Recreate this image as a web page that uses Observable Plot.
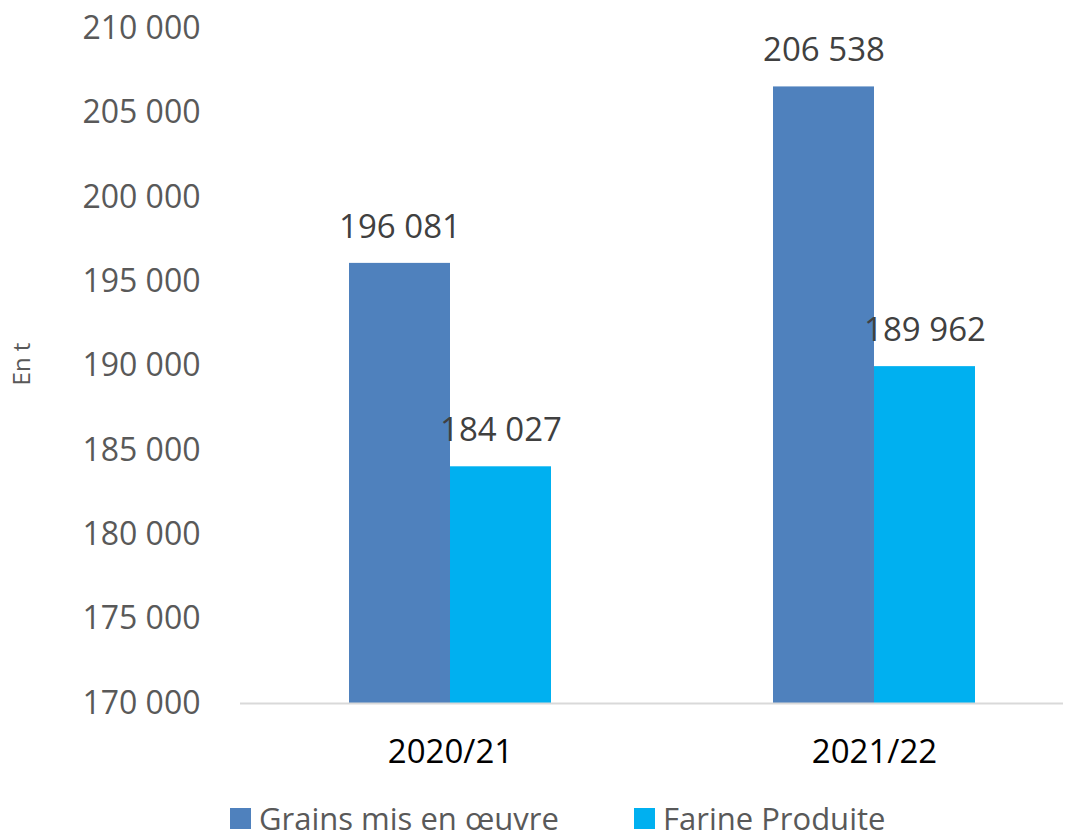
<!DOCTYPE html>
<html>
<head>
<meta charset="utf-8">
<script src="https://cdn.jsdelivr.net/npm/d3@7"></script>
<script src="https://cdn.jsdelivr.net/npm/@observablehq/plot@0.6"></script>
<style>
  html, body { margin: 0; padding: 0; background: #fff; }
  #chart { width: 1067px; height: 838px; position: relative; font-family: "Open Sans", sans-serif; }
  #legend { position: absolute; left: 0; top: 800px; width: 1067px; height: 36px; font-size: 31px; color: #595959; }
  .item { position: absolute; top: 0; display: flex; align-items: center; height: 36px; line-height: 36px; white-space: nowrap; }
  .sw { width: 21px; height: 21px; margin-right: 8px; }
</style>
</head>
<body>
<div id="chart"></div>
<script>
const years = ["2020/21", "2021/22"];
const grains = [196081, 206538];
const farine = [184027, 189962];
const yTicks = [170000, 175000, 180000, 185000, 190000, 195000, 200000, 205000, 210000];
const seriesNames = ["Grains mis en œuvre", "Farine Produite"];
const colors = ["#4F81BD", "#00B0F0"];
const axisTitle = "En t";

const fmt = d3.formatLocale({decimal: ",", thousands: " ", grouping: [3], currency: ["", ""]}).format(",d");
const rows = years.map((y, i) => ({year: y, grains: grains[i], farine: farine[i]}));

const plot = Plot.plot({
  width: 1067,
  height: 798,
  marginLeft: 240,
  marginRight: 4,
  marginTop: 28,
  marginBottom: 95,
  style: {fontFamily: "Open Sans, sans-serif", background: "#fff"},
  x: {domain: years, range: [237, 1086], paddingInner: 0.524, paddingOuter: 0.262, label: null},
  y: {domain: [170000, 210000], label: null},
  marks: [
    Plot.barY(rows, {x: "year", y1: 170000, y2: "grains", fill: colors[0], insetRight: 101}),
    Plot.barY(rows, {x: "year", y1: 170000, y2: "farine", fill: colors[1], insetLeft: 101}),
    Plot.ruleY([170000], {stroke: "#d9d9d9", strokeWidth: 2}),
    Plot.axisY({ticks: yTicks, tickSize: 0, tickPadding: 40, tickFormat: fmt, fontSize: 32, fill: "#595959", label: null}),
    Plot.axisX({tickSize: 0, tickPadding: 36, fontSize: 33, fill: "#000", label: null}),
    Plot.text(rows, {x: "year", y: "grains", text: d => fmt(d.grains), dx: -50.5, dy: -36, fontSize: 33, fill: "#404040"}),
    Plot.text(rows, {x: "year", y: "farine", text: d => fmt(d.farine), dx: 50.5, dy: -36, fontSize: 33, fill: "#404040"}),
    Plot.text([axisTitle], {frameAnchor: "left", textAnchor: "middle", dx: -218, dy: -2, rotate: -90, fontSize: 24, fill: "#595959"})
  ]
});
const chart = document.getElementById("chart");
chart.appendChild(plot);

const legend = document.createElement("div");
legend.id = "legend";
const lefts = [230, 634];
seriesNames.forEach((n, i) => {
  const it = document.createElement("div");
  it.className = "item";
  it.style.left = lefts[i] + "px";
  const sw = document.createElement("span");
  sw.className = "sw";
  sw.style.background = colors[i];
  const t = document.createElement("span");
  t.textContent = n;
  it.appendChild(sw); it.appendChild(t);
  legend.appendChild(it);
});
chart.appendChild(legend);
</script>
</body>
</html>
